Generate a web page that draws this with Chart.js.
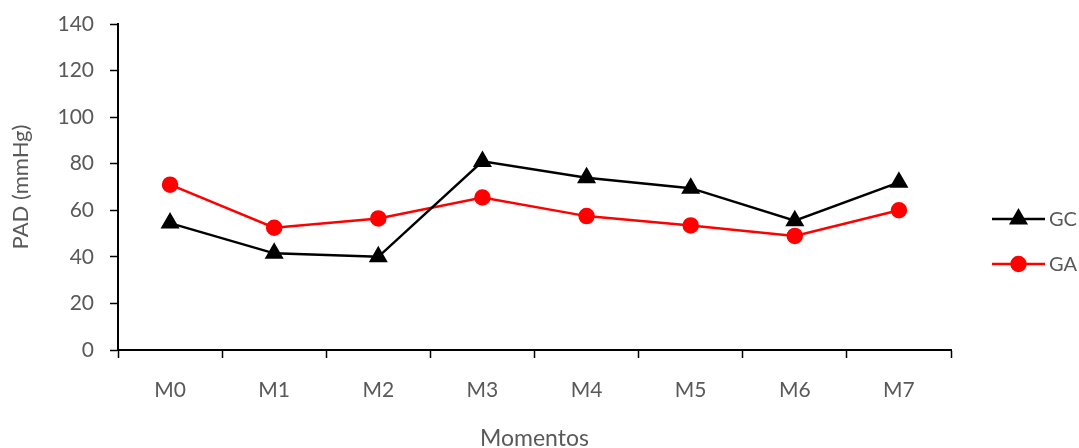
<!DOCTYPE html>
<html>
<head>
<meta charset="utf-8">
<script src="https://cdn.jsdelivr.net/npm/chart.js@4/dist/chart.umd.min.js"></script>
<style>
  html, body { margin: 0; padding: 0; background: #fff; }
  #wrap { width: 1079px; height: 448px; position: relative; }
</style>
</head>
<body>
<div id="wrap"><canvas id="c"></canvas></div>
<script>
// Diastolic pressure per moment, control (GC) and treated (GA) groups
const momentos = ['M0', 'M1', 'M2', 'M3', 'M4', 'M5', 'M6', 'M7'];
const gcValues = [54.5, 41.5, 40, 81, 74, 69.5, 55.5, 72];
const gaValues = [71, 52.5, 56.5, 65.5, 57.5, 53.5, 49, 60];
const yTicks = [0, 20, 40, 60, 80, 100, 120, 140];

const textColor = '#595959';
const fontFamily = 'Lato, "Open Sans", sans-serif';

// Legend on the right: a short line with the series marker on it
const sideLegend = {
  id: 'sideLegend',
  afterDraw(chart) {
    const ctx = chart.ctx;
    const x0 = 992, x1 = 1045, rowY = [219, 264];
    chart.data.datasets.forEach((ds, i) => {
      const y = rowY[i];
      ctx.save();
      ctx.strokeStyle = ds.borderColor;
      ctx.lineWidth = ds.borderWidth;
      ctx.beginPath();
      ctx.moveTo(x0, y);
      ctx.lineTo(x1, y);
      ctx.stroke();
      Chart.helpers.drawPoint(ctx, {
        pointStyle: ds.pointStyle,
        radius: ds.pointRadius,
        borderWidth: 1,
        rotation: 0
      }, (x0 + x1) / 2, y);
      ctx.fillStyle = ds.pointBackgroundColor;
      ctx.fill();
      ctx.fillStyle = textColor;
      ctx.font = '20px ' + fontFamily;
      ctx.textBaseline = 'middle';
      ctx.textAlign = 'left';
      ctx.fillText(ds.label, x1 + 4, y + 1);
      ctx.restore();
    });
  }
};

new Chart(document.getElementById('c'), {
  type: 'line',
  data: {
    labels: momentos,
    datasets: [
      {
        label: 'GC',
        data: gcValues,
        borderColor: '#000000',
        backgroundColor: '#000000',
        pointBackgroundColor: '#000000',
        pointBorderColor: '#000000',
        borderWidth: 2.5,
        pointStyle: 'triangle',
        pointRadius: 8.5,
        pointHoverRadius: 8.5,
        tension: 0
      },
      {
        label: 'GA',
        data: gaValues,
        borderColor: '#ff0000',
        backgroundColor: '#ff0000',
        pointBackgroundColor: '#ff0000',
        pointBorderColor: '#ff0000',
        borderWidth: 2.5,
        pointStyle: 'circle',
        pointRadius: 7,
        pointHoverRadius: 7,
        tension: 0
      }
    ]
  },
  options: {
    responsive: true,
    maintainAspectRatio: false,
    animation: false,
    events: [],
    layout: { padding: { left: 8, right: 128, top: 24, bottom: 0 } },
    plugins: {
      legend: { display: false },
      tooltip: { enabled: false }
    },
    scales: {
      x: {
        type: 'category',
        offset: true,
        grid: {
          offset: true,
          drawOnChartArea: false,
          drawTicks: true,
          tickLength: 8,
          tickWidth: 1.5,
          tickColor: '#000000'
        },
        border: { color: '#000000', width: 2 },
        ticks: {
          color: textColor,
          font: { family: fontFamily, size: 21 },
          padding: 20,
          maxRotation: 0
        },
        title: {
          display: true,
          text: 'Momentos',
          color: textColor,
          font: { family: fontFamily, size: 23, lineHeight: 0.8 },
          padding: { top: 0, bottom: 0 }
        },
        afterFit(scale) {
          scale.height = 98;
          scale.paddingLeft = 0;
          scale.paddingRight = 0;
        }
      },
      y: {
        min: 0,
        max: 140,
        afterBuildTicks(scale) { scale.ticks = yTicks.map(v => ({ value: v })); },
        grid: {
          drawOnChartArea: false,
          drawTicks: true,
          tickLength: 8,
          tickWidth: 1.5,
          tickColor: '#000000'
        },
        border: { color: '#000000', width: 2 },
        ticks: {
          color: textColor,
          font: { family: fontFamily, size: 21 },
          padding: 16
        },
        title: {
          display: true,
          text: 'PAD (mmHg)',
          color: textColor,
          font: { family: fontFamily, size: 22 },
          padding: { top: 0, bottom: 0 }
        },
        afterFit(scale) {
          scale.width = 110;
          scale.paddingTop = 0;
          scale.paddingBottom = 0;
        }
      }
    }
  },
  plugins: [sideLegend]
});
</script>
</body>
</html>
